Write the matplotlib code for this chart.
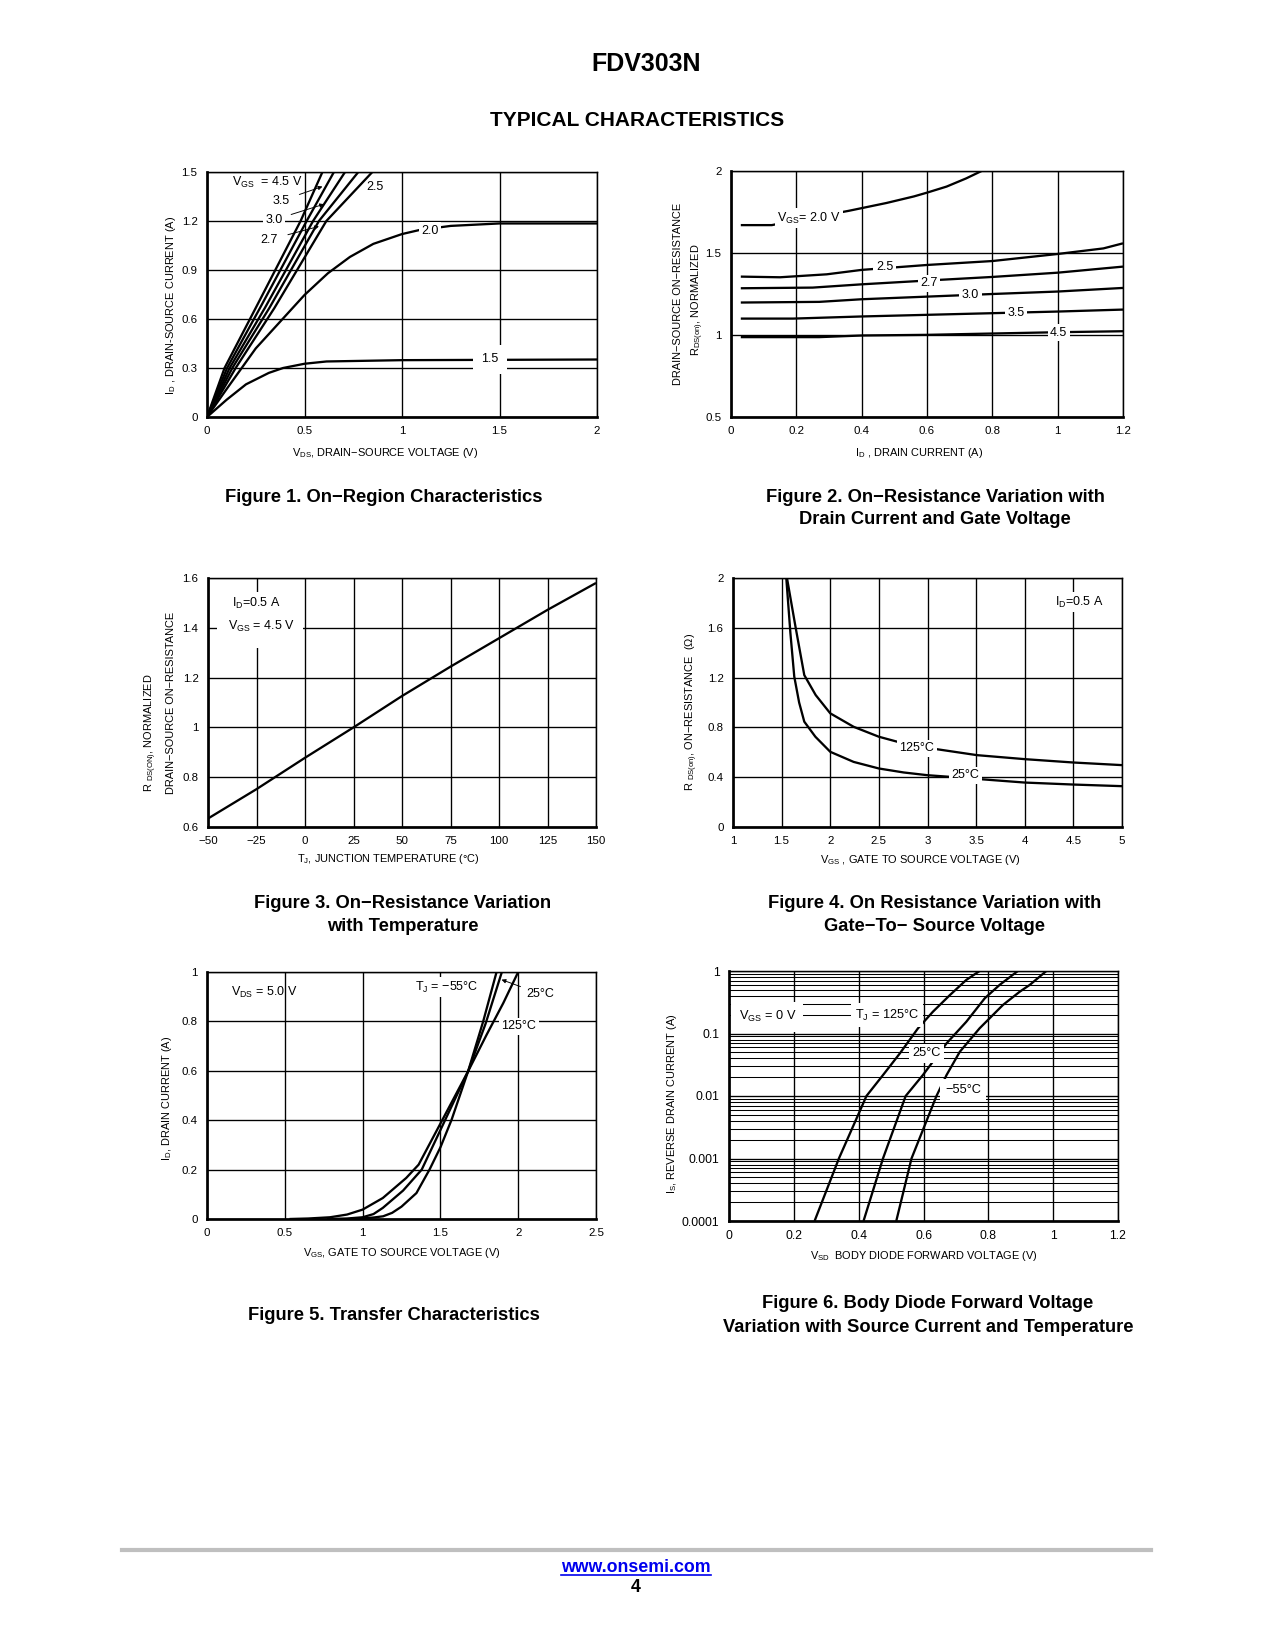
import matplotlib
matplotlib.use('Agg')
import matplotlib.pyplot as plt
from matplotlib.patches import Rectangle
from matplotlib.ticker import LogLocator, NullFormatter
import numpy as np

plt.rcParams['font.family'] = ['Liberation Sans', 'DejaVu Sans']
plt.rcParams['mathtext.fontset'] = 'custom'
plt.rcParams['mathtext.rm'] = 'Liberation Sans'
plt.rcParams['mathtext.it'] = 'Liberation Sans:italic'
plt.rcParams['mathtext.bf'] = 'Liberation Sans:bold'
plt.rcParams['mathtext.default'] = 'regular'

# ---------------- DATA ----------------
# Figure 1: On-region characteristics (ID vs VDS)
f1_id_lin = [0, 0.3, 0.668, 1.2, 1.5]
f1_vds_45 = [0, 0.090, 0.250, 0.480, 0.592]
f1_vds_35 = [0, 0.103, 0.272, 0.511, 0.651]
f1_vds_30 = [0, 0.116, 0.297, 0.544, 0.708]
f1_vds_27 = [0, 0.130, 0.320, 0.574, 0.776]
f1_vds_25 = [0, 0.147, 0.346, 0.612, 0.848]
f1_vds_20 = [0, 0.1, 0.25, 0.5, 0.62, 0.733, 0.853, 1.0, 1.09, 1.25, 1.5, 2.0]
f1_id_20 = [0, 0.17, 0.42, 0.747, 0.88, 0.98, 1.06, 1.12, 1.145, 1.17, 1.185, 1.185]
f1_vds_15 = [0, 0.1, 0.2, 0.317, 0.39, 0.5, 0.613, 1.0, 2.0]
f1_id_15 = [0, 0.105, 0.2, 0.27, 0.30, 0.326, 0.34, 0.348, 0.352]

# Figure 2: normalized RDS(on) vs ID
f2_i20 = [0.03, 0.125, 0.2, 0.3, 0.36, 0.476, 0.56, 0.6, 0.66, 0.72, 0.767]
f2_r20 = [1.67, 1.67, 1.70, 1.735, 1.757, 1.805, 1.845, 1.868, 1.905, 1.955, 2.0]
f2_i25 = [0.03, 0.15, 0.293, 0.4, 0.6, 0.8, 1.0, 1.14, 1.2]
f2_r25 = [1.356, 1.352, 1.37, 1.397, 1.427, 1.451, 1.494, 1.528, 1.559]
f2_i27 = [0.03, 0.25, 0.4, 0.6, 0.8, 1.0, 1.2]
f2_r27 = [1.285, 1.289, 1.309, 1.332, 1.354, 1.38, 1.417]
f2_i30 = [0.03, 0.27, 0.4, 0.6, 0.8, 1.0, 1.2]
f2_r30 = [1.198, 1.202, 1.218, 1.234, 1.25, 1.265, 1.287]
f2_i35 = [0.03, 0.19, 0.4, 0.6, 0.8, 1.0, 1.2]
f2_r35 = [1.10, 1.10, 1.113, 1.123, 1.133, 1.143, 1.155]
f2_i45 = [0.03, 0.27, 0.4, 0.6, 0.8, 1.0, 1.2]
f2_r45 = [0.987, 0.987, 0.997, 1.001, 1.009, 1.017, 1.023]

# Figure 3: normalized RDS(on) vs temperature
f3_t = [-50, -25, 0, 25, 50, 75, 100, 125, 150]
f3_r = [0.634, 0.752, 0.878, 1.0, 1.126, 1.244, 1.358, 1.472, 1.58]

# Figure 4: RDS(on) vs VGS
f4_v25 = [1.548, 1.59, 1.63, 1.68, 1.733, 1.847, 2.0, 2.24, 2.5, 2.755, 3.0, 3.23, 3.68, 4.0, 4.5, 5.0]
f4_r25 = [2.0, 1.56, 1.208, 1.0, 0.846, 0.725, 0.604, 0.523, 0.47, 0.438, 0.416, 0.403, 0.376, 0.357,
          0.341, 0.328]
f4_v125 = [1.555, 1.64, 1.733, 1.85, 2.0, 2.24, 2.5, 2.755, 3.0, 3.51, 4.0, 4.5, 5.0]
f4_r125 = [2.0, 1.62, 1.22, 1.06, 0.913, 0.805, 0.725, 0.671, 0.636, 0.577, 0.545, 0.518, 0.497]

# Figure 5: transfer characteristics
f5_vm55 = [0.92, 1.0, 1.07, 1.132, 1.19, 1.25, 1.346, 1.43, 1.5, 1.572, 1.678, 1.775, 1.861]
f5_im55 = [0.0, 0.003, 0.006, 0.011, 0.025, 0.05, 0.105, 0.2, 0.29, 0.402, 0.598, 0.8, 1.0]
f5_v25 = [0.77, 0.9, 1.0, 1.07, 1.13, 1.26, 1.38, 1.5, 1.678, 1.79, 1.895]
f5_i25 = [0.0, 0.002, 0.007, 0.02, 0.045, 0.115, 0.2, 0.36, 0.598, 0.79, 1.0]
f5_v125 = [0.53, 0.65, 0.79, 0.9, 1.0, 1.13, 1.28, 1.36, 1.52, 1.678, 1.797, 1.904, 2.0]
f5_i125 = [0.0, 0.002, 0.007, 0.018, 0.038, 0.085, 0.166, 0.22, 0.41, 0.598, 0.746, 0.874, 1.0]

# Figure 6: body diode forward voltage
f6_v125 = [0.264, 0.339, 0.424, 0.475, 0.527, 0.583, 0.629, 0.681, 0.732, 0.773]
f6_i125 = [1e-4, 1e-3, 1e-2, 0.0216, 0.048, 0.121, 0.223, 0.41, 0.72, 1.0]
f6_v25 = [0.415, 0.475, 0.545, 0.598, 0.671, 0.732, 0.789, 0.835, 0.891]
f6_i25 = [1e-4, 1e-3, 1e-2, 0.0216, 0.0695, 0.154, 0.366, 0.6, 1.0]
f6_vm55 = [0.516, 0.563, 0.64, 0.671, 0.712, 0.773, 0.845, 0.897, 0.928, 0.979]
f6_im55 = [1e-4, 1e-3, 1e-2, 0.0216, 0.051, 0.121, 0.286, 0.467, 0.6, 1.0]

# ---------------- FIGURE ----------------
W, H = 1275, 1650
fig = plt.figure(figsize=(W / 150, H / 150), dpi=150)


def px_ax(l, t, r, b):
    return fig.add_axes([l / W, 1 - b / H, (r - l) / W, (b - t) / H])


def ftext(x, y, s, **kw):
    fig.text(x / W, 1 - y / H, s, **kw)


TICK = 5.5
LBL = 5.3
ANN = 6.0
LW = 1.1
GRID = 0.65
WB = dict(facecolor='white', edgecolor='none', pad=1.2)


def style(ax, xlim, ylim, xt, xtl, yt, ytl, tick=TICK):
    ax.set_xlim(*xlim)
    ax.set_ylim(*ylim)
    ax.set_xticks(xt)
    ax.set_xticklabels(xtl)
    ax.set_yticks(yt)
    ax.set_yticklabels(ytl)
    ax.tick_params(length=0, labelsize=tick, pad=4.5)
    ax.grid(True, color='black', lw=GRID)
    for s in ['left', 'bottom']:
        ax.spines[s].set_linewidth(1.3)
    for s in ['top', 'right']:
        ax.spines[s].set_linewidth(0.7)


def ln(ax, x, y):
    ax.plot(x, y, color='black', lw=LW, solid_capstyle='butt', solid_joinstyle='round', zorder=2)


arrow = dict(arrowstyle='-|>', lw=0.45, color='black', mutation_scale=4, shrinkA=3, shrinkB=0)

# ---- Page header ----
ftext(646, 64, 'FDV303N', ha='center', va='center', fontsize=12, fontweight='bold')
ftext(637, 120, 'TYPICAL CHARACTERISTICS', ha='center', va='center', fontsize=10, fontweight='bold')

# ---- Figure 1 ----
ax1 = px_ax(207, 172, 597, 417)
style(ax1, (0, 2), (0, 1.5), [0, 0.5, 1, 1.5, 2], ['0', '0.5', '1', '1.5', '2'],
      [0, 0.3, 0.6, 0.9, 1.2, 1.5], ['0', '0.3', '0.6', '0.9', '1.2', '1.5'])
for v in [f1_vds_45, f1_vds_35, f1_vds_30, f1_vds_27, f1_vds_25]:
    ln(ax1, v, f1_id_lin)
ln(ax1, f1_vds_20, f1_id_20)
ln(ax1, f1_vds_15, f1_id_15)
ax1.text(0.13, 1.437, 'V$_{GS}$  = 4.5 V', fontsize=ANN, ha='left', va='center')
ax1.annotate('3.5', xy=(0.592, 1.411), xytext=(0.378, 1.323), fontsize=ANN, ha='center', va='center',
             arrowprops=arrow)
ax1.annotate('3.0', xy=(0.60, 1.303), xytext=(0.344, 1.207), fontsize=ANN, ha='center', va='center',
             arrowprops=arrow, bbox=WB)
ax1.annotate('2.7', xy=(0.574, 1.167), xytext=(0.318, 1.085), fontsize=ANN, ha='center', va='center',
             arrowprops=arrow)
ax1.text(0.815, 1.41, '2.5', fontsize=ANN, ha='left', va='center')
ax1.text(1.144, 1.14, '2.0', fontsize=ANN, ha='center', va='center', bbox=WB, zorder=3)
ax1.text(1.452, 0.354, '1.5', fontsize=ANN, ha='center', va='center',
         bbox=dict(facecolor='white', edgecolor='none', pad=4), zorder=3)
ftext(385, 453, 'V$_{DS}$, DRAIN\u2212SOURCE VOLTAGE (V)', ha='center', va='center', fontsize=LBL)
ftext(171, 305, 'I$_{D}$ , DRAIN-SOURCE CURRENT (A)', ha='center', va='center', fontsize=LBL, rotation=90)
ftext(384, 497, 'Figure 1. On\u2212Region Characteristics', ha='center', va='center', fontsize=8.8,
      fontweight='bold')

# ---- Figure 2 ----
ax2 = px_ax(731, 171, 1123, 417)
style(ax2, (0, 1.2), (0.5, 2), [0, 0.2, 0.4, 0.6, 0.8, 1.0, 1.2], ['0', '0.2', '0.4', '0.6', '0.8', '1', '1.2'],
      [0.5, 1, 1.5, 2], ['0.5', '1', '1.5', '2'])
for i, r in [(f2_i20, f2_r20), (f2_i25, f2_r25), (f2_i27, f2_r27), (f2_i30, f2_r30),
             (f2_i35, f2_r35), (f2_i45, f2_r45)]:
    ln(ax2, i, r)
ax2.text(0.142, 1.711, 'V$_{GS}$= 2.0 V', fontsize=ANN, ha='left', va='center', bbox=WB, zorder=3)
ax2.text(0.47, 1.417, '2.5', fontsize=ANN, ha='center', va='center', bbox=WB, zorder=3)
ax2.text(0.607, 1.315, '2.7', fontsize=ANN, ha='center', va='center', bbox=WB, zorder=3)
ax2.text(0.733, 1.244, '3.0', fontsize=ANN, ha='center', va='center', bbox=WB, zorder=3)
ax2.text(0.872, 1.137, '3.5', fontsize=ANN, ha='center', va='center', bbox=WB, zorder=3)
ax2.text(1.003, 1.015, '4.5', fontsize=ANN, ha='center', va='center', bbox=WB, zorder=3)
ftext(919, 453, 'I$_{D}$ , DRAIN CURRENT (A)', ha='center', va='center', fontsize=LBL)
ftext(678, 294, 'DRAIN\u2212SOURCE ON\u2212RESISTANCE', ha='center', va='center', fontsize=LBL, rotation=90)
ftext(698, 300, 'R$_{DS(on)}$, NORMALIZED', ha='center', va='center', fontsize=LBL, rotation=90)
ftext(935, 497, 'Figure 2. On\u2212Resistance Variation with', ha='center', va='center', fontsize=8.8,
      fontweight='bold')
ftext(935, 520, 'Drain Current and Gate Voltage', ha='center', va='center', fontsize=8.8,
      fontweight='bold')

# ---- Figure 3 ----
ax3 = px_ax(208, 578, 596, 827)
style(ax3, (-50, 150), (0.6, 1.6), [-50, -25, 0, 25, 50, 75, 100, 125, 150],
      ['\u221250', '\u221225', '0', '25', '50', '75', '100', '125', '150'],
      [0.6, 0.8, 1.0, 1.2, 1.4, 1.6], ['0.6', '0.8', '1', '1.2', '1.4', '1.6'])
ln(ax3, f3_t, f3_r)
ax3.add_patch(Rectangle((-45.4, 1.32), 44.6, 0.225, facecolor='white', edgecolor='none', zorder=2.5))
ax3.text(-37.6, 1.499, 'I$_{D}$=0.5 A', fontsize=ANN, ha='left', va='center', zorder=3)
ax3.text(-39.9, 1.405, 'V$_{GS}$ = 4.5 V', fontsize=ANN, ha='left', va='center', zorder=3,
         bbox=dict(facecolor='white', edgecolor='none', pad=2.5))
ftext(388, 859, 'T$_{J}$, JUNCTION TEMPERATURE (\u00b0C)', ha='center', va='center', fontsize=LBL)
ftext(151, 733, 'R $_{DS(ON)}$, NORMALIZED', ha='center', va='center', fontsize=LBL, rotation=90)
ftext(171, 703, 'DRAIN\u2212SOURCE ON\u2212RESISTANCE', ha='center', va='center', fontsize=LBL, rotation=90)
ftext(403, 904, 'Figure 3. On\u2212Resistance Variation', ha='center', va='center', fontsize=8.8,
      fontweight='bold')
ftext(403, 927, 'with Temperature', ha='center', va='center', fontsize=8.8, fontweight='bold')

# ---- Figure 4 ----
ax4 = px_ax(733, 578, 1122, 827)
style(ax4, (1, 5), (0, 2), [1, 1.5, 2, 2.5, 3, 3.5, 4, 4.5, 5],
      ['1', '1.5', '2', '2.5', '3', '3.5', '4', '4.5', '5'],
      [0, 0.4, 0.8, 1.2, 1.6, 2.0], ['0', '0.4', '0.8', '1.2', '1.6', '2'])
ln(ax4, f4_v25, f4_r25)
ln(ax4, f4_v125, f4_r125)
ax4.text(2.892, 0.631, '125\u00b0C', fontsize=ANN, ha='center', va='center', bbox=WB, zorder=3)
ax4.text(3.389, 0.416, '25\u00b0C', fontsize=ANN, ha='center', va='center', bbox=WB, zorder=3)
ax4.text(4.314, 1.804, 'I$_{D}$=0.5 A', fontsize=ANN, ha='left', va='center', bbox=WB, zorder=3)
ftext(920, 860, 'V$_{GS}$ , GATE TO SOURCE VOLTAGE (V)', ha='center', va='center', fontsize=LBL)
ftext(692, 712, 'R $_{DS(on)}$, ON\u2212RESISTANCE  (\u03a9)', ha='center', va='center', fontsize=LBL,
      rotation=90)
ftext(935, 904, 'Figure 4. On Resistance Variation with', ha='center', va='center', fontsize=8.8,
      fontweight='bold')
ftext(935, 927, 'Gate\u2212To\u2212 Source Voltage', ha='center', va='center', fontsize=8.8,
      fontweight='bold')

# ---- Figure 5 ----
ax5 = px_ax(207, 972, 596, 1219)
style(ax5, (0, 2.5), (0, 1), [0, 0.5, 1, 1.5, 2, 2.5], ['0', '0.5', '1', '1.5', '2', '2.5'],
      [0, 0.2, 0.4, 0.6, 0.8, 1.0], ['0', '0.2', '0.4', '0.6', '0.8', '1'])
ln(ax5, f5_vm55, f5_im55)
ln(ax5, f5_v25, f5_i25)
ln(ax5, f5_v125, f5_i125)
ax5.text(0.157, 0.918, 'V$_{DS}$ = 5.0 V', fontsize=ANN, ha='left', va='center')
ax5.text(1.336, 0.938, 'T$_{J}$ = \u221255\u00b0C', fontsize=ANN, ha='left', va='center', bbox=WB, zorder=3)
ax5.annotate('25\u00b0C', xy=(1.893, 0.969), xytext=(2.054, 0.911), fontsize=ANN, ha='left', va='center',
             arrowprops=dict(arrowstyle='-|>', lw=0.45, color='black', mutation_scale=4, shrinkA=1, shrinkB=0))
ax5.text(1.893, 0.78, '125\u00b0C', fontsize=ANN, ha='left', va='center', bbox=WB, zorder=3)
ftext(402, 1253, 'V$_{GS}$, GATE TO SOURCE VOLTAGE (V)', ha='center', va='center', fontsize=LBL)
ftext(167, 1098, 'I$_{D}$, DRAIN CURRENT (A)', ha='center', va='center', fontsize=LBL, rotation=90)
ftext(394, 1316, 'Figure 5. Transfer Characteristics', ha='center', va='center', fontsize=8.8,
      fontweight='bold')

# ---- Figure 6 ----
ax6 = px_ax(729, 971, 1118, 1221)
ax6.set_yscale('log')
style(ax6, (0, 1.2), (1e-4, 1), [0, 0.2, 0.4, 0.6, 0.8, 1.0, 1.2],
      ['0', '0.2', '0.4', '0.6', '0.8', '1', '1.2'],
      [1e-4, 1e-3, 1e-2, 1e-1, 1], ['0.0001', '0.001', '0.01', '0.1', '1'], tick=5.8)
ax6.yaxis.set_minor_locator(LogLocator(base=10, subs=np.arange(2, 10)))
ax6.yaxis.set_minor_formatter(NullFormatter())
ax6.tick_params(which='minor', length=0)
ax6.grid(True, which='minor', axis='y', color='black', lw=0.5)
ln(ax6, f6_v125, f6_i125)
ln(ax6, f6_v25, f6_i25)
ln(ax6, f6_vm55, f6_im55)
ax6.text(0.03, 0.185, 'V$_{GS}$ = 0 V', fontsize=6.1, ha='left', va='center',
         bbox=dict(facecolor='white', edgecolor='none', pad=3.5), zorder=3)
ax6.text(0.388, 0.197, 'T$_{J}$ = 125\u00b0C', fontsize=6.1, ha='left', va='center',
         bbox=dict(facecolor='white', edgecolor='none', pad=2.0), zorder=3)
ax6.text(0.609, 0.048, '25\u00b0C', fontsize=6.1, ha='center', va='center',
         bbox=dict(facecolor='white', edgecolor='none', pad=1.5), zorder=3)
ax6.text(0.722, 0.0124, '\u221255\u00b0C', fontsize=6.1, ha='center', va='center',
         bbox=dict(facecolor='white', edgecolor='none', pad=2.5), zorder=3)
ftext(924, 1256, 'V$_{SD}$  BODY DIODE FORWARD VOLTAGE (V)', ha='center', va='center', fontsize=LBL)
ftext(672, 1104, 'I$_{S}$, REVERSE DRAIN CURRENT (A)', ha='center', va='center', fontsize=LBL, rotation=90)
ftext(928, 1304, 'Figure 6. Body Diode Forward Voltage', ha='center', va='center', fontsize=8.8,
      fontweight='bold')
ftext(928, 1328, 'Variation with Source Current and Temperature', ha='center', va='center', fontsize=8.8,
      fontweight='bold')

# ---- Footer ----
fig.add_artist(plt.Line2D([122 / W, 1151 / W], [1 - 1550 / H, 1 - 1550 / H], color='#bfbfbf', lw=2.0,
                          transform=fig.transFigure))
ftext(636, 1567, 'www.onsemi.com', ha='center', va='center', fontsize=8.5, fontweight='bold', color='#0000ee')
fig.add_artist(plt.Line2D([561 / W, 711 / W], [1 - 1575 / H, 1 - 1575 / H], color='#0000ee', lw=0.8,
                          transform=fig.transFigure))
ftext(636, 1588, '4', ha='center', va='center', fontsize=8.5, fontweight='bold')

fig.savefig('out.png', dpi=150, facecolor='white')
